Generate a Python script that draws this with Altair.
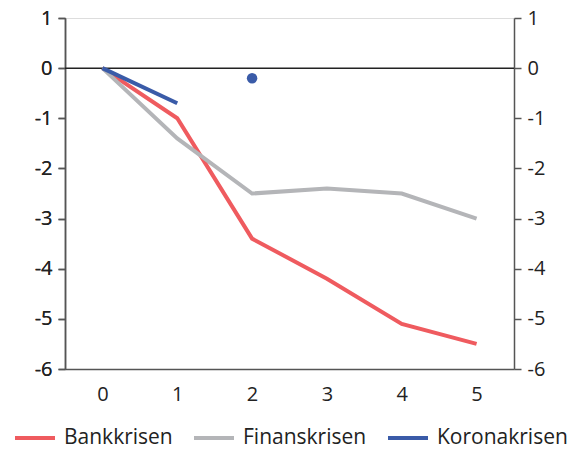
import altair as alt
import pandas as pd

years = [0, 1, 2, 3, 4, 5]
bank = [0, -1.0, -3.4, -4.2, -5.1, -5.5]
finans = [0, -1.4, -2.5, -2.4, -2.5, -3.0]
korona_x = [0, 1]
korona = [0, -0.7]
korona_pt_x = [2]
korona_pt = [-0.2]

series = ["Bankkrisen", "Finanskrisen", "Koronakrisen"]
colors = ["#EF5B5F", "#B4B5B8", "#3A5BA8"]

rows = []
for x, v in zip(years, bank):
    rows.append({"x": x, "v": v, "s": "Bankkrisen"})
for x, v in zip(years, finans):
    rows.append({"x": x, "v": v, "s": "Finanskrisen"})
for x, v in zip(korona_x, korona):
    rows.append({"x": x, "v": v, "s": "Koronakrisen"})
df = pd.DataFrame(rows)
pt = pd.DataFrame({"x": korona_pt_x, "v": korona_pt, "s": ["Koronakrisen"]})
zero = pd.DataFrame({"v": [0]})

FONT = "Open Sans"
FS = 20
LFS = 21
xscale = alt.Scale(domain=[-0.5, 5.5], nice=False, zero=False)
yscale = alt.Scale(domain=[-6, 1], nice=False)
color = alt.Color("s:N", scale=alt.Scale(domain=series, range=colors),
                  legend=alt.Legend(title=None, orient="none", direction="horizontal",
                                    legendX=-52, legendY=398,
                                    symbolType="stroke", symbolSize=1600,
                                    symbolStrokeWidth=4, labelFont=FONT,
                                    labelFontSize=LFS, labelColor="#222",
                                    columnPadding=13, labelOffset=7))

xaxis = alt.Axis(values=years, ticks=False, grid=False, labelPadding=15,
                 labelFont=FONT, labelFontSize=FS, labelColor="#222", format="d",
                 domainColor="#555", domainWidth=1.5, title=None, labelFlush=False)
yvals = [1, 0, -1, -2, -3, -4, -5, -6]
yleft = alt.Axis(values=yvals, grid=False, tickSize=7, tickColor="#555", tickWidth=1.5,
                 domainColor="#555", domainWidth=1.5, labelPadding=6,
                 labelFont=FONT, labelFontSize=FS, labelColor="#222", title=None,
                 labelExpr="datum.value + ''", orient="left")
yright = alt.Axis(values=yvals, grid=False, tickSize=7, tickColor="#555", tickWidth=1.5,
                  domainColor="#555", domainWidth=1.5, labelPadding=6,
                  labelFont=FONT, labelFontSize=FS, labelColor="#222", title=None,
                  labelExpr="datum.value + ''", orient="right")

zline = alt.Chart(zero).mark_rule(color="#222", strokeWidth=1.5).encode(
    y=alt.Y("v:Q", scale=yscale, axis=yright))

lines = alt.Chart(df).mark_line(strokeWidth=4).encode(
    x=alt.X("x:Q", scale=xscale, axis=xaxis),
    y=alt.Y("v:Q", scale=yscale, axis=yleft),
    color=color,
    order="x:Q",
    detail="s:N",
)

point = alt.Chart(pt).mark_circle(size=110, opacity=1, color="#3A5BA8").encode(
    x=alt.X("x:Q", scale=xscale, axis=xaxis),
    y=alt.Y("v:Q", scale=yscale, axis=yleft),
)

chart = alt.layer(zline, lines, point).resolve_axis(y="independent").properties(
    width=449, height=351,
    padding={"left": 65, "top": 18, "right": 65, "bottom": 83},
    autosize=alt.AutoSizeParams(type="none"),
).configure_view(stroke=None).configure(font=FONT)

chart.save("out.html", embed_options={"renderer": "svg", "actions": False})
